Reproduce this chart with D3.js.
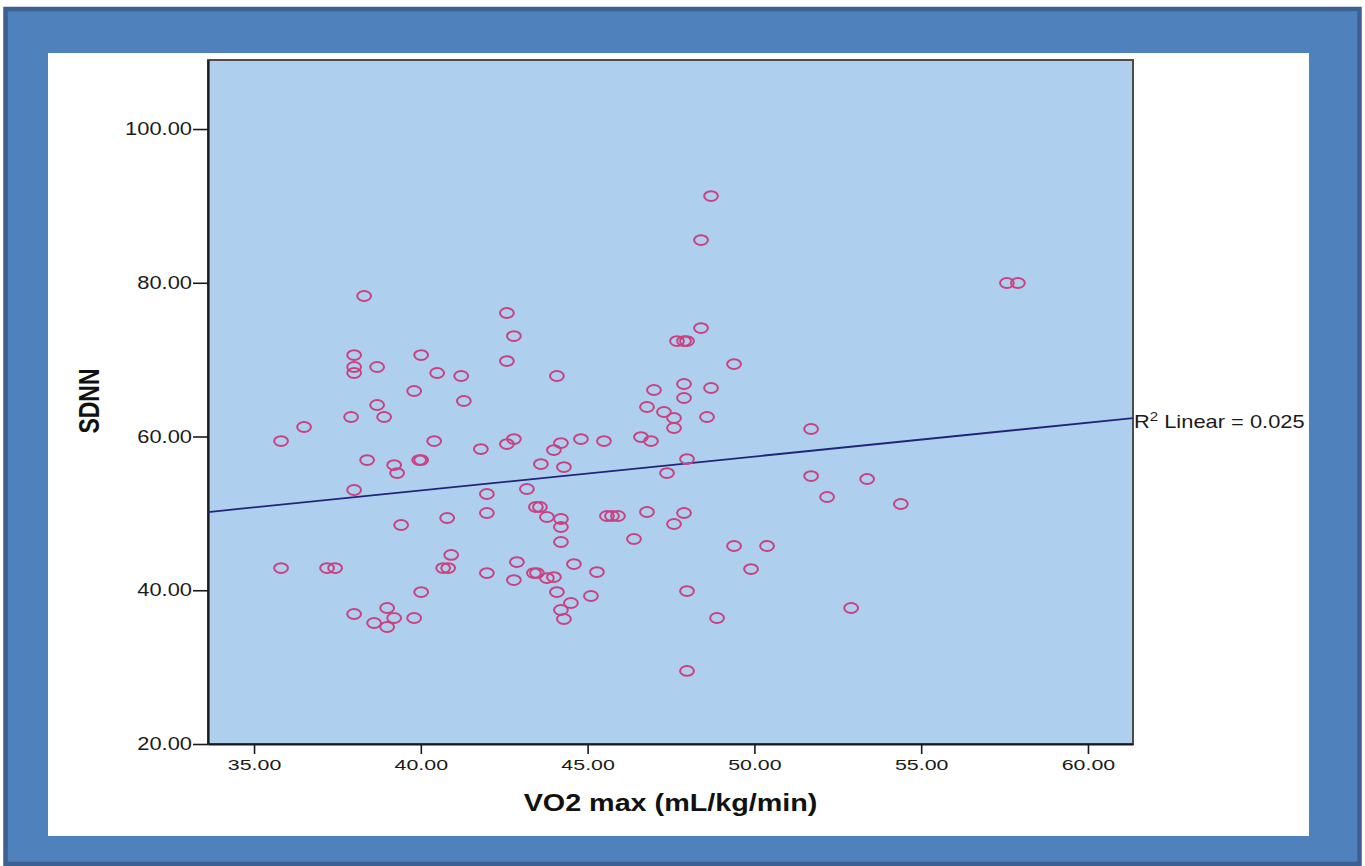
<!DOCTYPE html>
<html>
<head>
<meta charset="utf-8">
<script src="https://cdn.jsdelivr.net/npm/d3@7"></script>
<style>
  html, body { margin: 0; padding: 0; background: #fff; }
  svg { display: block; }
</style>
</head>
<body>
<svg id="chart" width="1365" height="866"></svg>
<script>
// VO2 max (mL/kg/min) for each subject
const vo2max = [
  35.81, 35.81, 36.50, 37.19, 37.43, 37.91, 38.00, 38.00, 38.00, 38.00,
  38.00, 38.30, 38.39, 38.60, 38.69, 38.69, 38.90, 38.99, 38.99, 39.20,
  39.20, 39.29, 39.41, 39.80, 39.80, 40.01, 40.01, 39.95, 40.01, 40.40,
  40.49, 40.67, 40.82, 40.79, 40.91, 41.21, 41.29, 41.80, 41.98, 41.98,
  41.98, 42.58, 42.79, 42.58, 42.58, 42.79, 42.79, 42.88, 43.18, 43.39,
  43.48, 43.45, 43.57, 43.60, 43.78, 43.78, 43.99, 43.99, 44.08, 44.20,
  44.20, 44.20, 44.20, 44.20, 44.29, 44.29, 44.08, 44.50, 44.59, 44.80,
  45.10, 45.28, 45.49, 45.58, 45.73, 45.91, 46.39, 46.60, 46.78, 46.78,
  46.90, 46.99, 47.29, 47.38, 47.59, 47.59, 47.59, 47.68, 47.89, 47.98,
  47.89, 47.89, 47.89, 47.98, 47.98, 47.98, 48.40, 48.40, 48.58, 48.70,
  48.70, 48.88, 49.39, 49.39, 49.90, 50.38, 51.70, 51.70, 52.18, 52.90,
  53.38, 54.39, 57.57, 57.90
];

// SDNN (ms) for the same subjects
const sdnn = [
  59.41, 42.89, 61.24, 42.89, 42.89, 62.54, 53.04, 70.60, 69.04, 68.26,
  36.91, 78.28, 56.94, 35.74, 69.04, 64.10, 62.54, 37.69, 35.22, 56.29,
  36.39, 55.25, 48.49, 65.92, 36.39, 70.60, 56.94, 56.94, 39.77, 59.41,
  68.26, 42.89, 42.89, 49.40, 44.59, 67.87, 64.62, 58.37, 52.52, 50.05,
  42.24, 76.07, 73.07, 69.82, 59.02, 59.67, 41.33, 43.67, 53.17, 42.24,
  42.24, 50.83, 50.83, 56.42, 49.53, 41.59, 58.24, 41.72, 39.77, 59.15,
  49.27, 48.23, 46.28, 37.43, 56.03, 36.26, 67.87, 38.34, 43.41, 59.67,
  39.25, 42.37, 59.41, 49.66, 49.66, 49.66, 46.67, 59.93, 63.84, 50.18,
  59.41, 66.05, 63.19, 55.25, 62.41, 61.11, 48.62, 72.42, 72.42, 72.42,
  66.83, 65.01, 50.05, 57.07, 39.90, 29.50, 85.56, 74.11, 62.54, 91.28,
  66.31, 36.39, 69.43, 45.76, 42.76, 45.76, 60.98, 54.86, 52.13, 37.69,
  54.47, 51.22, 79.97, 79.97
];

// Axis ticks and extents
const xTicks = [35, 40, 45, 50, 55, 60];
const yTicks = [20, 40, 60, 80, 100];
const xDomain = [33.62, 61.35];
const yDomain = [20, 108.98];

// Linear fit shown across the plot
const fitIntercept = 35.36;
const fitSlope = 0.4407;
const rSquared = 0.025;

const xTitle = "VO2 max (mL/kg/min)";
const yTitle = "SDNN";

// ---------------------------------------------------------------
const svg = d3.select("#chart");
const plot = { left: 208, top: 60, right: 1133, bottom: 744 };
const font = "'Liberation Sans', Arial, Helvetica, sans-serif";
const stretchX = 1.25;

// Outer slide frame
svg.append("rect")
  .attr("x", 5.5).attr("y", 9).attr("width", 1354).attr("height", 855)
  .attr("fill", "#4f81bd").attr("stroke", "#3b6091").attr("stroke-width", 4.5);

// White chart panel
svg.append("rect")
  .attr("x", 48).attr("y", 53).attr("width", 1261).attr("height", 783)
  .attr("fill", "#ffffff");

const x = d3.scaleLinear().domain(xDomain).range([plot.left, plot.right]);
const y = d3.scaleLinear().domain(yDomain).range([plot.bottom, plot.top]);

// Plot background
svg.append("rect")
  .attr("x", plot.left).attr("y", plot.top)
  .attr("width", plot.right - plot.left).attr("height", plot.bottom - plot.top)
  .attr("fill", "#aed0ee").attr("stroke", "#4d4d4d").attr("stroke-width", 2);

// Widen text horizontally around its anchor point
function widen(sel, sx) {
  sel.each(function () {
    const t = d3.select(this);
    const tx = +t.attr("x") || 0;
    const ty = +t.attr("y") || 0;
    t.attr("x", 0).attr("y", 0)
     .attr("transform", `translate(${tx},${ty}) scale(${sx},1)`);
  });
}

// Y axis
const yAxis = svg.append("g")
  .attr("transform", `translate(${plot.left},0)`)
  .call(d3.axisLeft(y).tickValues(yTicks).tickFormat(d3.format(".2f"))
    .tickSize(15).tickPadding(1).tickSizeOuter(0));
yAxis.select(".domain").attr("stroke", "#1a1a1a").attr("stroke-width", 2.2);
yAxis.selectAll(".tick line").attr("stroke", "#1a1a1a").attr("stroke-width", 1.6);
yAxis.selectAll(".tick text")
  .attr("fill", "#1a1a1a").style("font-family", font).style("font-size", "17.5px");
widen(yAxis.selectAll(".tick text"), stretchX);

// X axis
const xAxis = svg.append("g")
  .attr("transform", `translate(0,${plot.bottom})`)
  .call(d3.axisBottom(x).tickValues(xTicks).tickFormat(d3.format(".2f"))
    .tickSize(10).tickPadding(5).tickSizeOuter(0));
xAxis.select(".domain").attr("stroke", "#1a1a1a").attr("stroke-width", 2.2);
xAxis.selectAll(".tick line").attr("stroke", "#1a1a1a").attr("stroke-width", 1.6);
xAxis.selectAll(".tick text")
  .attr("fill", "#1a1a1a").style("font-family", font).style("font-size", "15.5px");
widen(xAxis.selectAll(".tick text"), 1.38);

// Axis titles
svg.append("text")
  .attr("transform", `translate(${(plot.left + plot.right) / 2},811) scale(${stretchX},1)`)
  .attr("text-anchor", "middle")
  .style("font-family", font).style("font-size", "23px").style("font-weight", "bold")
  .attr("fill", "#111")
  .text(xTitle);

svg.append("text")
  .attr("transform", `translate(99,401) scale(${stretchX},1) rotate(-90)`)
  .attr("text-anchor", "middle")
  .style("font-family", font).style("font-size", "23px").style("font-weight", "bold")
  .attr("fill", "#111")
  .text(yTitle);

// Fit line
const fitLine = xDomain.map(v => [v, fitIntercept + fitSlope * v]);
svg.append("path")
  .datum(fitLine)
  .attr("d", d3.line().x(d => x(d[0])).y(d => y(d[1])))
  .attr("fill", "none").attr("stroke", "#23237a").attr("stroke-width", 1.8);

// Fit label
const fitY = y(fitIntercept + fitSlope * xDomain[1]);
const lbl = svg.append("text")
  .attr("transform", `translate(${plot.right + 1},${fitY + 10}) scale(1.25,1)`)
  .style("font-family", font).style("font-size", "17.5px").attr("fill", "#1a1a1a");
lbl.append("tspan").text("R");
lbl.append("tspan").attr("dy", -7).style("font-size", "12px").text("2");
lbl.append("tspan").attr("dy", 7).text(" Linear = " + d3.format(".3f")(rSquared));

// Scatter points
const pts = vo2max.map((v, i) => ({ x: v, y: sdnn[i] }));
svg.append("g")
  .selectAll("ellipse")
  .data(pts)
  .join("ellipse")
  .attr("cx", d => x(d.x))
  .attr("cy", d => y(d.y))
  .attr("rx", 6.9).attr("ry", 4.9)
  .attr("fill", "none")
  .attr("stroke", "#c9427f")
  .attr("stroke-width", 2);
</script>
</body>
</html>
